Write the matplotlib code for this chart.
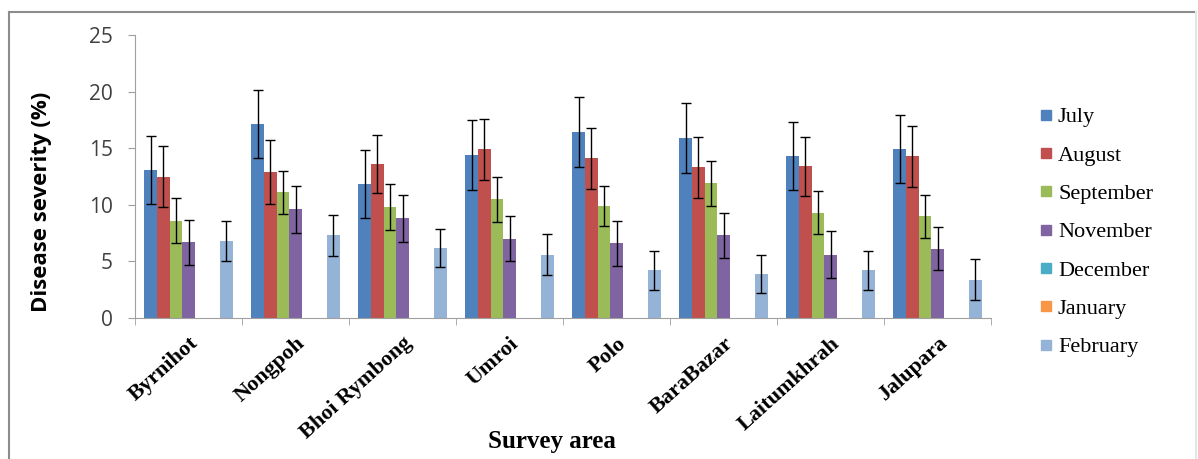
import numpy as np
import matplotlib
matplotlib.use('Agg')
import matplotlib.pyplot as plt
from matplotlib.lines import Line2D

areas = ['Byrnihot', 'Nongpoh', 'Bhoi Rymbong', 'Umroi', 'Polo', 'BaraBazar', 'Laitumkhrah', 'Jalupara']
months = ['July', 'August', 'September', 'November', 'December', 'January', 'February']
colors = ['#4F81BD', '#C0504D', '#9BBB59', '#8064A2', '#4BACC6', '#F79646', '#95B3D7']

# mean disease severity (%) per month, one value per area
july = [13.1, 17.1, 11.8, 14.4, 16.4, 15.9, 14.3, 14.9]
august = [12.5, 12.9, 13.6, 14.9, 14.1, 13.3, 13.4, 14.3]
september = [8.6, 11.1, 9.8, 10.5, 9.9, 11.9, 9.3, 9.0]
november = [6.7, 9.6, 8.8, 7.0, 6.6, 7.3, 5.6, 6.1]
december = [0, 0, 0, 0, 0, 0, 0, 0]
january = [0, 0, 0, 0, 0, 0, 0, 0]
february = [6.8, 7.3, 6.2, 5.6, 4.2, 3.9, 4.2, 3.4]

# error bar half-widths
july_err = [3.0, 3.0, 3.0, 3.1, 3.1, 3.1, 3.0, 3.0]
august_err = [2.7, 2.8, 2.6, 2.7, 2.7, 2.7, 2.6, 2.7]
september_err = [2.0, 1.9, 2.0, 2.0, 1.8, 2.0, 1.9, 1.9]
november_err = [2.0, 2.1, 2.1, 2.0, 2.0, 2.0, 2.1, 1.9]
february_err = [1.8, 1.8, 1.7, 1.8, 1.7, 1.7, 1.7, 1.8]

values = [july, august, september, november, december, january, february]
errors = [july_err, august_err, september_err, november_err, None, None, february_err]

fig = plt.figure(figsize=(11.98, 4.59), dpi=100)
ax = fig.add_axes([135 / 1198, 1 - 318 / 459, 856 / 1198, 283 / 459])

n = len(months)
bw = 1 / (n + 1.5)   # excel gap width 150%
x = np.arange(len(areas))
for j in range(n):
    pos = x - 0.5 + (0.75 + j + 0.5) * bw
    ax.bar(pos, values[j], width=bw, color=colors[j], label=months[j], zorder=2)
    if errors[j] is not None:
        ax.errorbar(pos, values[j], yerr=errors[j], fmt='none', ecolor='black',
                    elinewidth=1, capsize=3.5, capthick=1, zorder=3)

ax.set_xlim(-0.5, len(areas) - 0.5)
ax.set_ylim(0, 25)
ax.set_yticks([0, 5, 10, 15, 20, 25])
ax.set_xticks(x)
ax.set_xticklabels(areas, rotation=42, ha='right', rotation_mode='anchor',
                   fontfamily='Liberation Serif', fontweight='bold', fontsize=16)
ax.set_xticks(np.arange(len(areas) + 1) - 0.5, minor=True)
ax.tick_params(axis='x', which='major', length=0, pad=11)
ax.tick_params(axis='x', which='minor', length=5, color='#A0A0A0', direction='out')
ax.tick_params(axis='y', length=5, color='#A0A0A0', labelsize=15, labelcolor='#404040', pad=11)
for lab in ax.get_yticklabels():
    lab.set_fontfamily('Open Sans')

for s in ['top', 'right']:
    ax.spines[s].set_visible(False)
for s in ['left', 'bottom']:
    ax.spines[s].set_color('#A0A0A0')

fig.text(42 / 1198, 1 - 202 / 459, 'Disease severity (%)', rotation=90, ha='center', va='center',
         fontsize=16, fontweight='bold', fontfamily='Open Sans')
fig.text(552 / 1198, 1 - 448 / 459, 'Survey area', ha='center', va='baseline',
         fontsize=18, fontweight='bold', fontfamily='Liberation Serif')

handles = [Line2D([], [], marker='s', linestyle='none', markersize=7, color=c) for c in colors]
fig.legend(handles, months, loc='upper left', bbox_to_anchor=(1028 / 1198, 1 - 98 / 459),
           frameon=False, prop={'family': 'Liberation Serif', 'size': 16},
           handlelength=0.8, handletextpad=0.15, labelspacing=0.8, borderaxespad=0)

# outer frame of the chart
fig.add_artist(Line2D([9 / 1198, 9 / 1198], [0, 1 - 12 / 459], transform=fig.transFigure,
                      color='#8C8C8C', linewidth=1.5))
fig.add_artist(Line2D([9 / 1198, 1196 / 1198], [1 - 12 / 459, 1 - 12 / 459], transform=fig.transFigure,
                      color='#8C8C8C', linewidth=1.5))
fig.add_artist(Line2D([1196 / 1198, 1196 / 1198], [0, 1 - 12 / 459], transform=fig.transFigure,
                      color='#E6E6E6', linewidth=1.5))

fig.savefig('out.png', dpi=100)
